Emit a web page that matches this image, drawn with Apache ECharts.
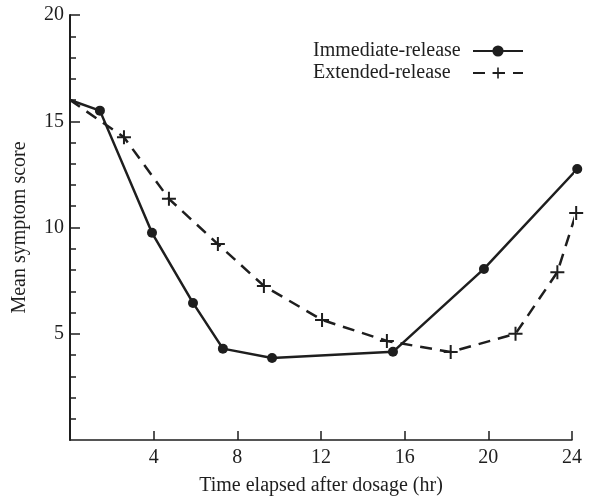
<!DOCTYPE html>
<html>
<head>
<meta charset="utf-8">
<script src="https://cdn.jsdelivr.net/npm/echarts@6/dist/echarts.min.js"></script>
<style>html,body{margin:0;padding:0;background:#fff}#c{width:596px;height:500px}</style>
</head>
<body>
<div id="c"></div>
<script>
const seriesNames = ['Immediate-release', 'Extended-release'];
const irHours = [0, 1.43, 3.92, 5.88, 7.31, 9.66, 15.44, 19.79, 24.25];
const irScores = [16.0, 15.5, 9.75, 6.45, 4.3, 3.86, 4.15, 8.05, 12.75];
const erHours = [0, 2.58, 4.73, 7.07, 9.27, 12.05, 15.15, 18.2, 21.3, 23.3, 24.2];
const erScores = [16.0, 14.25, 11.35, 9.22, 7.25, 5.65, 4.66, 4.14, 5.0, 7.9, 10.68];
const xTicks = [4, 8, 12, 16, 20, 24];
const yTicks = [5, 10, 15, 20];

const FONT = '"Liberation Serif", "DejaVu Serif", serif';
const INK = '#1e1e1e';
const plusPath = 'path://M6,0 h2 v6 h6 v2 h-6 v6 h-2 v-6 h-6 v-2 h6 z';

function build(xs, ys) {
  return xs.map((x, i) => i === 0 ? { value: [x, ys[i]], symbol: 'none' } : [x, ys[i]]);
}

const chart = echarts.init(document.getElementById('c'), null, { renderer: 'canvas' });
chart.setOption({
  animation: false,
  backgroundColor: '#fff',
  grid: { left: 70, right: 24, top: 15, bottom: 60, containLabel: false, outerBoundsMode: 'none' },
  legend: {
    orient: 'vertical',
    left: 308,
    top: 36,
    align: 'right',
    itemWidth: 50,
    itemHeight: 14,
    itemGap: 2,
    formatter: name => '{t|' + name + '}',
    textStyle: {
      fontFamily: FONT, fontSize: 20, color: INK, padding: [0, 5, 0, 0],
      rich: { t: { width: 150, align: 'left', fontFamily: FONT, fontSize: 20, color: INK } }
    },
    data: seriesNames
  },
  xAxis: {
    type: 'value',
    min: 0, max: 24, interval: 4,
    name: 'Time elapsed after dosage (hr)',
    nameLocation: 'middle',
    nameGap: 36,
    nameTextStyle: { fontFamily: FONT, fontSize: 20, color: INK },
    axisLine: { show: true, lineStyle: { color: INK, width: 1.5 } },
    axisTick: { show: true, inside: true, length: 9, lineStyle: { color: INK, width: 1.5 },
      customValues: xTicks },
    axisLabel: { fontFamily: FONT, fontSize: 20, color: INK, margin: 8,
      customValues: xTicks },
    splitLine: { show: false }
  },
  yAxis: {
    type: 'value',
    min: 0, max: 20, interval: 5,
    name: 'Mean symptom score',
    nameLocation: 'middle',
    nameGap: 40,
    nameTextStyle: { fontFamily: FONT, fontSize: 20, color: INK },
    axisLine: { show: true, lineStyle: { color: INK, width: 2 } },
    axisTick: { show: true, inside: true, length: 10, lineStyle: { color: INK, width: 1.5 },
      customValues: yTicks },
    minorTick: { show: true, splitNumber: 5, length: 6, lineStyle: { color: INK, width: 1.5 } },
    axisLabel: { fontFamily: FONT, fontSize: 20, color: INK, margin: 6,
      customValues: yTicks },
    splitLine: { show: false },
    minorSplitLine: { show: false }
  },
  series: [
    {
      name: seriesNames[0],
      type: 'line',
      clip: false,
      data: build(irHours, irScores),
      symbol: 'circle',
      symbolSize: 10,
      showAllSymbol: true,
      lineStyle: { color: INK, width: 2.5 },
      itemStyle: { color: INK, borderWidth: 0 }
    },
    {
      name: seriesNames[1],
      type: 'line',
      clip: false,
      data: build(erHours, erScores),
      symbol: plusPath,
      symbolSize: 14,
      showAllSymbol: true,
      lineStyle: { color: INK, width: 2.5, type: [12, 8] },
      itemStyle: { color: INK, borderWidth: 0 }
    }
  ]
});
</script>
</body>
</html>
